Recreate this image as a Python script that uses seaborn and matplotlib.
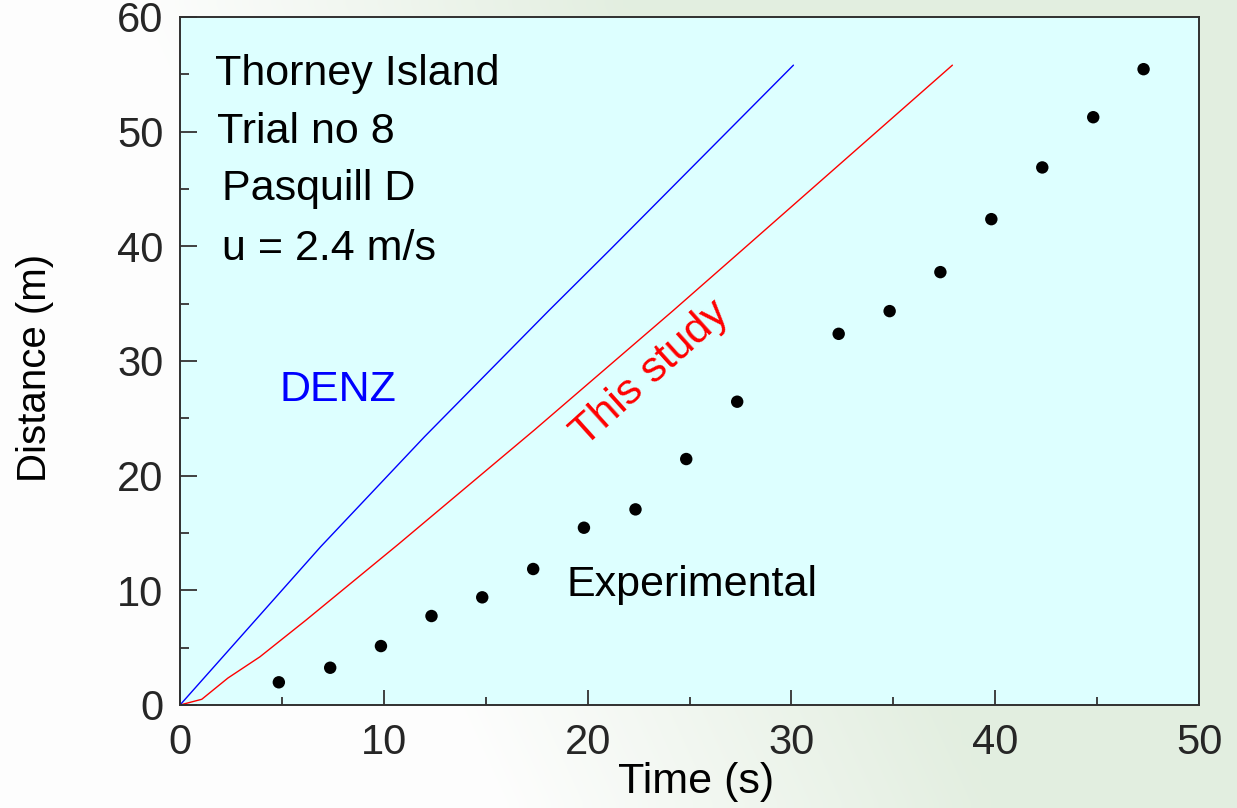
import numpy as np
import pandas as pd
import matplotlib
matplotlib.use("Agg")
import matplotlib.pyplot as plt
from matplotlib.ticker import MultipleLocator
import seaborn as sns

# ---- data ----
denz_time = [0, 3.4, 6.9, 12.0, 18.1, 21.1, 30.1]
denz_dist = [0, 6.8, 13.8, 23.4, 34.4, 39.7, 55.8]

study_time = [0, 1.07, 2.35, 3.92, 6.18, 10.7, 17.4, 24.2, 27.6, 37.9]
study_dist = [0, 0.5, 2.35, 4.2, 7.4, 14.0, 24.0, 34.4, 39.7, 55.8]

exp_time = [4.85, 7.37, 9.86, 12.34, 14.83, 17.33, 19.82, 22.35, 24.84, 27.34,
            32.32, 34.82, 37.31, 39.81, 42.31, 44.81, 47.28]
exp_dist = [1.98, 3.25, 5.14, 7.76, 9.39, 11.86, 15.46, 17.06, 21.45, 26.45,
            32.37, 34.35, 37.75, 42.37, 46.88, 51.26, 55.45]

info_lines = ["Thorney Island", "Trial no 8", "Pasquill D", "u = 2.4 m/s"]
x_ticks = [0, 10, 20, 30, 40, 50]
y_ticks = [0, 10, 20, 30, 40, 50, 60]

sns.set_theme(style="ticks")
plt.rcParams["font.family"] = ["Liberation Sans", "DejaVu Sans"]

fig = plt.figure(figsize=(12.37, 8.08), dpi=100)

# background: white on the left fading to a pale green
bg = fig.add_axes([0, 0, 1, 1], zorder=-10)
h, w = 81, 124
yy, xx = np.mgrid[0:h, 0:w]
t = np.clip((xx / w - 0.10 - 0.30 * (yy / h)) / 0.40, 0, 1)
white = np.array([0.995, 0.995, 0.995])
green = np.array([0.89, 0.935, 0.88])
img = white[None, None, :] * (1 - t[..., None]) + green[None, None, :] * t[..., None]
bg.imshow(img, aspect="auto", extent=[0, 1, 0, 1], interpolation="bilinear")
bg.set_axis_off()

ax = fig.add_axes([180 / 1237, 103 / 808, 1019 / 1237, 688 / 808])
ax.set_facecolor("#ddffff")

denz = pd.DataFrame({"t": denz_time, "d": denz_dist})
study = pd.DataFrame({"t": study_time, "d": study_dist})
exp = pd.DataFrame({"t": exp_time, "d": exp_dist})

sns.lineplot(data=denz, x="t", y="d", ax=ax, color="#0000ff", lw=1.0,
             estimator=None, sort=False)
sns.lineplot(data=study, x="t", y="d", ax=ax, color="#ff0000", lw=1.0,
             estimator=None, sort=False)
sns.scatterplot(data=exp, x="t", y="d", ax=ax, color="black", s=80,
                edgecolor="none", zorder=3)

ax.set_xlim(0, 50)
ax.set_ylim(0, 60)
ax.set_xticks(x_ticks)
ax.set_yticks(y_ticks)
ax.xaxis.set_minor_locator(MultipleLocator(5))
ax.yaxis.set_minor_locator(MultipleLocator(5))
ax.tick_params(axis="x", which="major", direction="in", length=11, width=1.4,
               color="#404040", labelsize=30, pad=13, top=False)
ax.tick_params(axis="x", which="minor", direction="in", length=6, width=1.4,
               color="#404040", top=False)
ax.tick_params(axis="y", which="major", direction="in", length=12, width=1.4,
               color="#404040", labelsize=30, pad=12, right=False)
ax.tick_params(axis="y", which="minor", direction="in", length=6.5, width=1.4,
               color="#404040", right=False)
for s in ax.spines.values():
    s.set_visible(True)
    s.set_color("#303030")
    s.set_linewidth(1.4)

ax.set_xlabel("Time (s)", fontsize=31, color="black")
ax.set_ylabel("Distance (m)", fontsize=29, color="black")
ax.xaxis.set_label_coords(0.506, -0.083)
ax.yaxis.set_label_coords(-0.124, 0.49)

fs = 31
info_pos = [(1.7, 54.05), (1.8, 49.0), (2.06, 44.0), (2.06, 38.8)]
for txt, (x, y) in zip(info_lines, info_pos):
    ax.text(x, y, txt, fontsize=fs, color="black", ha="left", va="baseline")

ax.text(4.9, 26.5, "DENZ", fontsize=fs, color="#0000ff", ha="left", va="baseline")
ax.text(18.97, 9.5, "Experimental", fontsize=fs, color="black", ha="left", va="baseline")
ax.text(23.1, 28.9, "This study", fontsize=fs, color="#ff0000", ha="center",
        va="center", rotation=42, rotation_mode="anchor")

fig.savefig("out.png", dpi=100)
